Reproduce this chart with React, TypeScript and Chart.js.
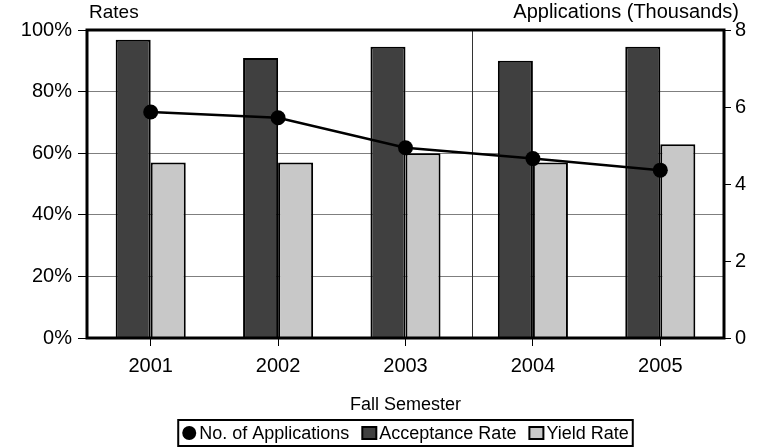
import React, { useEffect, useRef } from "react";
import { Chart, registerables } from "chart.js";

Chart.register(...registerables);

const categories = ["2001", "2002", "2003", "2004", "2005"];
const applications = [5.87, 5.72, 4.94, 4.66, 4.36];
const acceptanceRate = [0.968, 0.909, 0.946, 0.9, 0.946];
const yieldRate = [0.57, 0.57, 0.6, 0.57, 0.629];
const seriesLabels = ["No. of Applications", "Acceptance Rate", "Yield Rate"];
const leftTitle = "Rates";
const rightTitle = "Applications (Thousands)";
const xTitle = "Fall Semester";

const FONT = "'Liberation Sans', Arial, sans-serif";

const decorPlugin = {
  id: "decor",
  beforeDatasetsDraw(chart: any) {
    const { ctx, chartArea, scales } = chart;
    const x = scales.x;
    const mid = (x.getPixelForValue(2) + x.getPixelForValue(3)) / 2 + 3;
    ctx.save();
    ctx.strokeStyle = "#333";
    ctx.lineWidth = 1;
    ctx.beginPath();
    ctx.moveTo(Math.round(mid) + 0.5, chartArea.top);
    ctx.lineTo(Math.round(mid) + 0.5, chartArea.bottom);
    ctx.stroke();
    ctx.restore();
  },
  afterDraw(chart: any) {
    const { ctx, chartArea } = chart;
    ctx.save();
    ctx.strokeStyle = "#000";
    ctx.lineWidth = 3;
    ctx.strokeRect(chartArea.left, chartArea.top, chartArea.right - chartArea.left, chartArea.bottom - chartArea.top);
    ctx.fillStyle = "#000";
    ctx.textBaseline = "alphabetic";
    ctx.font = `19px ${FONT}`;
    ctx.textAlign = "left";
    ctx.fillText(leftTitle, chartArea.left + 2, 18);
    ctx.font = `20px ${FONT}`;
    ctx.textAlign = "right";
    ctx.fillText(rightTitle, chartArea.right + 15, 18);
    ctx.font = `18px ${FONT}`;
    ctx.textAlign = "center";
    ctx.textBaseline = "middle";
    ctx.fillText(xTitle, (chartArea.left + chartArea.right) / 2, 405);

    const ds = chart.data.datasets;
    ctx.font = `18px ${FONT}`;
    const markerW = 16;
    const gapAfter = 2;
    const gapBetween = 12;
    const items = ds.map((d: any) => ({ d, w: ctx.measureText(d.label).width }));
    let total = 0;
    items.forEach((it: any, i: number) => {
      total += markerW + gapAfter + it.w + (i < items.length - 1 ? gapBetween : 0);
    });
    const padL = 3, padR = 4;
    const boxW = total + padL + padR;
    const cx = (chartArea.left + chartArea.right) / 2;
    const boxLeft = cx - boxW / 2;
    const boxTop = 420, boxH = 26;
    ctx.lineWidth = 2;
    ctx.strokeStyle = "#000";
    ctx.strokeRect(boxLeft, boxTop, boxW, boxH);
    const cy = boxTop + boxH / 2;
    let px = boxLeft + padL;
    ctx.textAlign = "left";
    ctx.textBaseline = "middle";
    items.forEach((it: any) => {
      const d = it.d;
      if (d.type === "line") {
        ctx.fillStyle = "#000";
        ctx.beginPath();
        ctx.arc(px + markerW / 2, cy, 7, 0, Math.PI * 2);
        ctx.fill();
      } else {
        ctx.fillStyle = d.backgroundColor;
        ctx.fillRect(px + 1, cy - 6, markerW - 2, 12);
        ctx.lineWidth = 2;
        ctx.strokeStyle = "#000";
        ctx.strokeRect(px + 1, cy - 6, markerW - 2, 12);
      }
      px += markerW + gapAfter;
      ctx.fillStyle = "#000";
      ctx.fillText(d.label, px, cy + 1);
      px += it.w + gapBetween;
    });
    ctx.restore();
  },
};

export default function App() {
  const ref = useRef<HTMLCanvasElement | null>(null);
  useEffect(() => {
    document.body.style.margin = "0";
    const canvas = ref.current!;
    const chart = new Chart(canvas, {
      type: "bar",
      data: {
        labels: categories,
        datasets: [
          {
            type: "line",
            label: seriesLabels[0],
            data: applications,
            yAxisID: "y1",
            borderColor: "#000",
            backgroundColor: "#000",
            borderWidth: 2.5,
            pointRadius: 7.5,
            pointBackgroundColor: "#000",
            pointBorderColor: "#000",
            pointBorderWidth: 0,
            tension: 0,
            order: 0,
          } as any,
          {
            type: "bar",
            label: seriesLabels[1],
            data: acceptanceRate,
            yAxisID: "y",
            backgroundColor: "#404040",
            borderColor: "#000",
            borderWidth: 2,
            categoryPercentage: 0.55,
            barPercentage: 1,
            order: 1,
          },
          {
            type: "bar",
            label: seriesLabels[2],
            data: yieldRate,
            yAxisID: "y",
            backgroundColor: "#c8c8c8",
            borderColor: "#000",
            borderWidth: 2,
            categoryPercentage: 0.55,
            barPercentage: 1,
            order: 1,
          },
        ],
      },
      options: {
        responsive: false,
        animation: false,
        layout: { padding: { top: 30, left: 0, right: 0, bottom: 0 } },
        plugins: { legend: { display: false }, tooltip: { enabled: false }, title: { display: false } },
        scales: {
          x: {
            position: "bottom",
            offset: true,
            afterFit: (s: any) => { s.height = 110; },
            grid: { offset: false, drawOnChartArea: false, drawTicks: true, tickLength: 8, tickColor: "#000", lineWidth: 1 },
            border: { display: false },
            ticks: { color: "#000", font: { family: FONT, size: 20 }, padding: 8 },
          },
          y: {
            position: "left",
            min: 0,
            max: 1,
            afterFit: (s: any) => { s.width = 87; },
            grid: {
              color: (c: any) => (c.tick && (c.tick.value <= 0.001 || c.tick.value >= 0.999) ? "rgba(0,0,0,0)" : "#7f7f7f"),
              tickColor: "#000",
              tickLength: 9,
              lineWidth: 1,
            },
            border: { display: false },
            ticks: {
              stepSize: 0.2,
              color: "#000",
              font: { family: FONT, size: 20 },
              padding: 6,
              callback: (v: any) => `${Math.round(Number(v) * 100)}%`,
            },
          },
          y1: {
            position: "right",
            min: 0,
            max: 8,
            afterFit: (s: any) => { s.width = 35; },
            grid: { drawOnChartArea: false, tickColor: "#000", tickLength: 7 },
            border: { display: false },
            ticks: { stepSize: 2, color: "#000", font: { family: FONT, size: 20 }, padding: 4 },
          },
        },
      } as any,
      plugins: [decorPlugin],
    });
    return () => chart.destroy();
  }, []);
  return (
    <div style={{ width: 759, height: 448 }}>
      <canvas ref={ref} width={759} height={448} />
    </div>
  );
}
